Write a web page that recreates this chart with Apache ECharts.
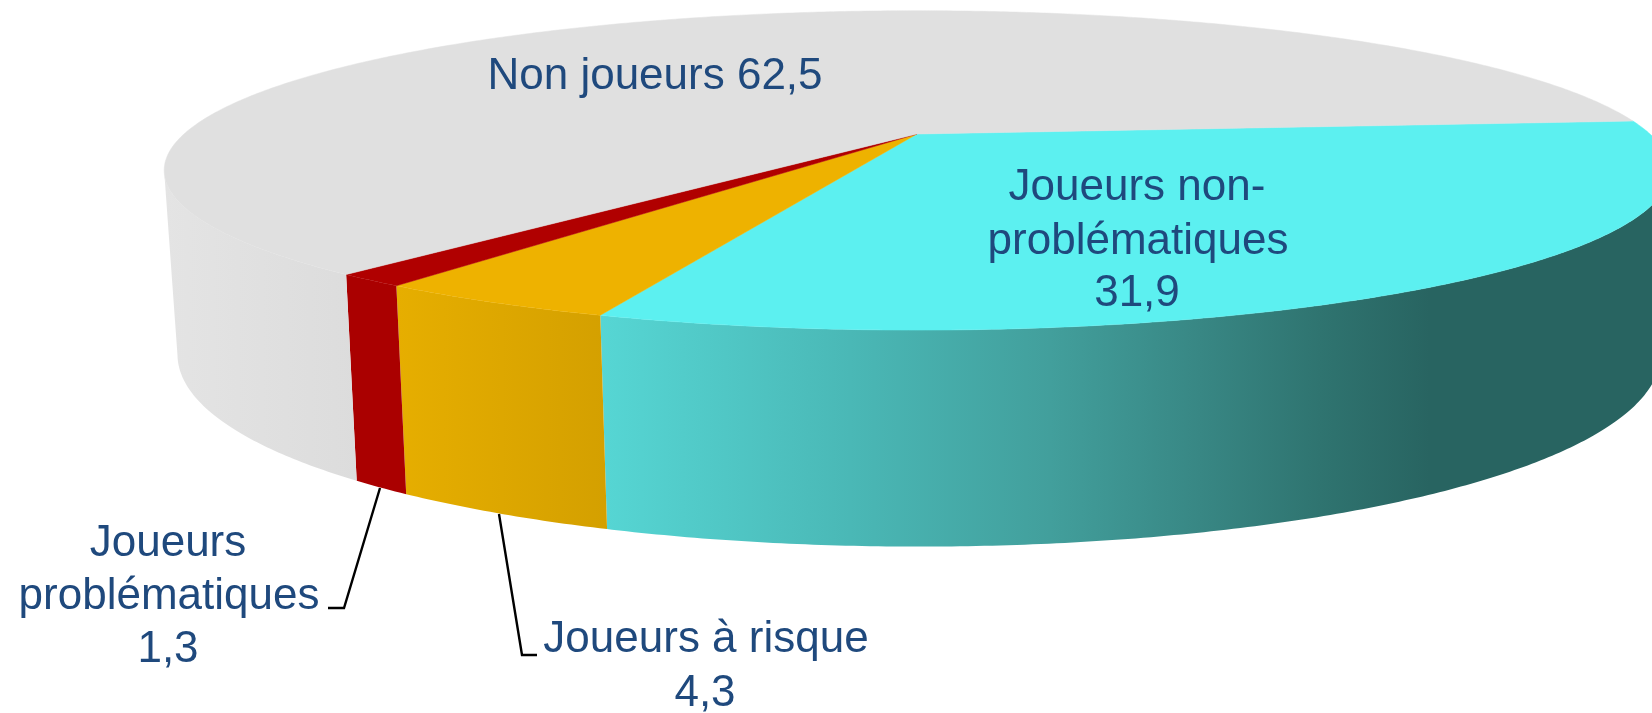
<!DOCTYPE html>
<html>
<head>
<meta charset="utf-8">
<style>html,body{margin:0;padding:0;background:#fff}#pie{width:1652px;height:713px}</style>
<script src="https://cdn.jsdelivr.net/npm/echarts@6/dist/echarts.min.js"></script>
</head>
<body>
<div id="pie"></div>
<script>
// clockwise from the right hand side, as in the original
var categories = ['Joueurs non-problématiques', 'Joueurs à risque', 'Joueurs problématiques', 'Non joueurs'];
var values = [31.9, 4.3, 1.3, 62.5];
var valueLabels = ['31,9', '4,3', '1,3', '62,5'];
var topColors = ['#5cf0f0', '#eeb200', '#b00000', '#e0e0e0'];

// side wall shading, [x in px, colour]
var wallStops = [
    [[600, '#56d6d4'], [850, '#4ab8b6'], [1050, '#429f9c'], [1200, '#388784'], [1320, '#2f7470'], [1430, '#286461'], [1652, '#286461']],
    [[398, '#e6ae00'], [606, '#d4a000']],
    [[345, '#aa0000'], [406, '#aa0000']],
    [[163, '#e4e4e4'], [360, '#dcdcdc']]
];

// perspective of the disc: top face and bottom face
var startDeg = -5;
var topFace = {cx: 917, cy: 134, a: 733, b: 151.4, p: 0.228, bulge: 0};
var bottomFace = {cx: 919, cy: 294, a: 722, b: 195, p: 0.228, bulge: 14};

function project(face, deg) {
    var t = deg * Math.PI / 180;
    var u = Math.cos(t), v = Math.sin(t);
    var w = 1 - face.p * v;
    return [face.cx + face.a * u / w, face.cy + face.b * v / w + face.bulge * u * u];
}

function sliceRange(idx) {
    var before = 0;
    for (var i = 0; i < idx; i++) before += values[i];
    var total = values.reduce(function (s, x) { return s + x; }, 0);
    return [startDeg + before / total * 360, startDeg + (before + values[idx]) / total * 360];
}

function arcDegs(from, to) {
    var out = [];
    for (var d = from; d < to; d += 0.5) out.push(d);
    out.push(to);
    return out;
}

function wallGradient(stops) {
    var x0 = stops[0][0], x1 = stops[stops.length - 1][0];
    return new echarts.graphic.LinearGradient(x0, 0, x1, 0, stops.map(function (s) {
        return {offset: (s[0] - x0) / (x1 - x0), color: s[1]};
    }), true);
}

function renderWall(params, api) {
    var idx = params.dataIndex, r = sliceRange(idx);
    // only the part in front of the widest point of the disc shows
    var degs = arcDegs(r[0], r[1]).filter(function (d) {
        return Math.sin(d * Math.PI / 180) >= topFace.p;
    });
    var pts = degs.map(function (d) { return project(topFace, d); });
    var low = degs.slice().reverse().map(function (d) { return project(bottomFace, d); });
    return {
        type: 'polygon',
        shape: {points: pts.concat(low)},
        style: {fill: wallGradient(wallStops[idx])}
    };
}

function renderTop(params, api) {
    var idx = params.dataIndex, r = sliceRange(idx);
    var pts = [[topFace.cx, topFace.cy]].concat(arcDegs(r[0], r[1]).map(function (d) {
        return project(topFace, d);
    }));
    return {
        type: 'polygon',
        shape: {points: pts},
        style: {fill: topColors[idx], stroke: topColors[idx], lineWidth: 0.5}
    };
}

function textEl(str, x, y) {
    return {
        type: 'text', x: x, y: y, z: 20,
        style: {
            text: str, fill: '#1f497d', align: 'center', verticalAlign: 'middle',
            font: '44px "Liberation Sans", Arial, sans-serif'
        }
    };
}

function leader(points) {
    return {
        type: 'polyline', z: 15,
        shape: {points: points},
        style: {stroke: '#000', lineWidth: 2.4, fill: null}
    };
}

var chartDom = document.getElementById('pie');
var myChart = echarts.init(chartDom);

var option = {
    animation: false,
    series: [
        {type: 'custom', coordinateSystem: 'none', silent: true, z: 2, renderItem: renderWall, data: values},
        {type: 'custom', coordinateSystem: 'none', silent: true, z: 3, renderItem: renderTop, data: values}
    ],
    graphic: {
        elements: [
            leader([[380, 488], [344, 608], [328, 608]]),
            leader([[499, 514], [522, 655], [537, 655]]),
            textEl(categories[3] + ' ' + valueLabels[3], 655, 77),
            textEl('Joueurs non-', 1137, 188),
            textEl('problématiques', 1138, 242),
            textEl(valueLabels[0], 1137, 294),
            textEl('Joueurs', 168, 544),
            textEl('problématiques', 169, 597),
            textEl(valueLabels[2], 168, 650),
            textEl(categories[1], 706, 640),
            textEl(valueLabels[1], 705, 694)
        ]
    }
};

option && myChart.setOption(option);
</script>
</body>
</html>
